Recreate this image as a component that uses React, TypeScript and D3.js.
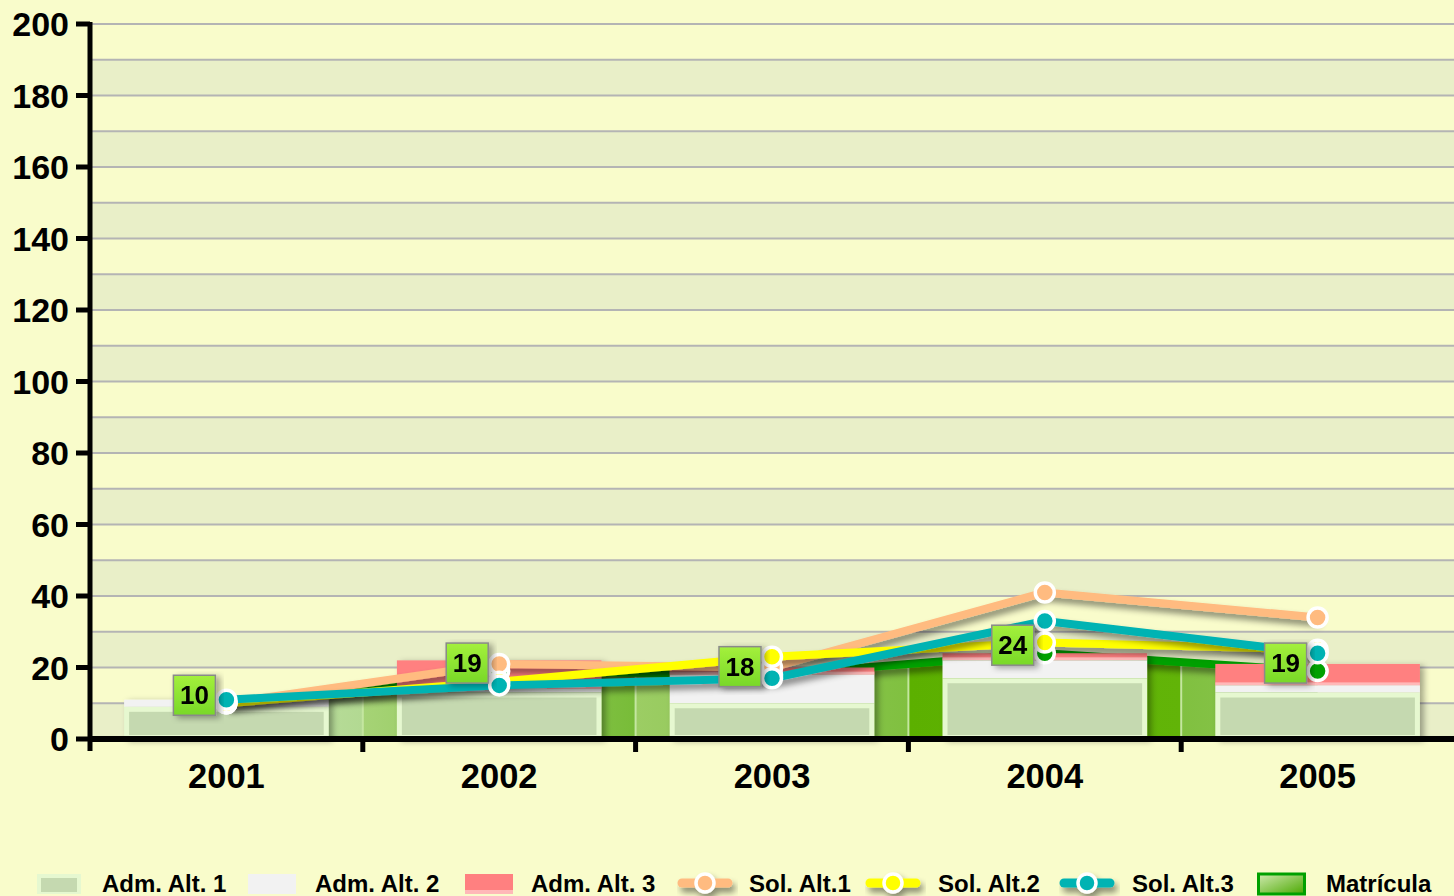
import React from "react";
import * as d3 from "d3";

const years = ["2001", "2002", "2003", "2004", "2005"];
const admAlt1 = [9, 13, 10, 17, 13];
const admAlt2 = [2, 1, 8, 5, 2];
const admAlt3 = [0, 8, 2, 2, 6];
const solAlt1 = [10, 21, 20, 41, 34];
const solAlt2 = [10, 16, 23, 27, 25];
const solAlt3 = [11, 15, 17, 33, 24];
const matricula = [10, 19, 18, 24, 19];
const yTicks = [0, 20, 40, 60, 80, 100, 120, 140, 160, 180, 200];

const W = 1454;
const H = 896;
const left = 90;
const right = 1454;
const top = 24;
const bottom = 739;
const font = "'Liberation Sans', Arial, sans-serif";

// shading of the Matrícula area, per category strip (left -> right)
const segColors = [
  ["#d4eabc", "#b2d992"],
  ["#a6d376", "#78bc38"],
  ["#9ccd64", "#80c040"],
  ["#5cb000", "#62b408"],
  ["#80c040", "#9ccd64"],
];

export default function App() {
  const x = d3.scaleBand().domain(years).range([left, right]).padding(0);
  const y = d3.scaleLinear().domain([0, 200]).range([bottom, top]);
  const bw = x.bandwidth();
  const cx = (i: number) => (x(years[i]) as number) + bw / 2;
  const barW = bw * 0.75;

  const bands = d3.range(0, 200, 10);
  const area = d3
    .area<number>()
    .x((_, i) => cx(i))
    .y0(y(0))
    .y1((d) => y(d));
  const line = d3
    .line<number>()
    .x((_, i) => cx(i))
    .y((d) => y(d));

  const matSeries = { name: "Matrícula", data: matricula, color: "#00a000" };
  const solSeries = [
    { name: "Sol. Alt.1", data: solAlt1, color: "#ffbb80" },
    { name: "Sol. Alt.2", data: solAlt2, color: "#ffff00" },
    { name: "Sol. Alt.3", data: solAlt3, color: "#00b3b3" },
  ];
  const markerSeries = [matSeries, ...solSeries];

  const legend = [
    { label: "Adm. Alt. 1", kind: "adm1", sx: 37, tx: 102 },
    { label: "Adm. Alt. 2", kind: "adm2", sx: 248, tx: 315 },
    { label: "Adm. Alt. 3", kind: "adm3", sx: 465, tx: 531 },
    { label: "Sol. Alt.1", kind: "line", color: "#ffbb80", sx: 678, tx: 749 },
    { label: "Sol. Alt.2", kind: "line", color: "#ffff00", sx: 866, tx: 938 },
    { label: "Sol. Alt.3", kind: "line", color: "#00b3b3", sx: 1060, tx: 1132 },
    { label: "Matrícula", kind: "mat", sx: 1257, tx: 1326 },
  ];

  return (
    <div style={{ position: "absolute", left: 0, top: 0 }}>
      <svg width={W} height={H} style={{ display: "block", background: "#f9fccb" }}>
        <defs>
          <filter id="shadow" x="-10%" y="-30%" width="130%" height="180%">
            <feDropShadow dx="3" dy="5" stdDeviation="3" floodColor="#000" floodOpacity="0.45" />
          </filter>
          <filter id="barShadow" x="-10%" y="-10%" width="130%" height="130%">
            <feDropShadow dx="4" dy="2" stdDeviation="3" floodColor="#000" floodOpacity="0.35" />
          </filter>
          {segColors.map((c, i) => (
            <linearGradient key={i} id={`seg${i}`} x1="0" x2="1" y1="0" y2="0">
              <stop offset="0" stopColor={c[0]} />
              <stop offset="1" stopColor={c[1]} />
            </linearGradient>
          ))}
          <linearGradient id="lbl" x1="0" x2="0" y1="0" y2="1">
            <stop offset="0" stopColor="#a4f03c" />
            <stop offset="1" stopColor="#78d828" />
          </linearGradient>
          <linearGradient id="matLeg" x1="0" x2="1" y1="0" y2="1">
            <stop offset="0" stopColor="#d0eab0" />
            <stop offset="1" stopColor="#4aa800" />
          </linearGradient>
          <clipPath id="areaClip">
            <path d={area(matricula) || ""} />
          </clipPath>
        </defs>

        {/* plot bands */}
        {bands.map((b, i) => (
          <rect
            key={b}
            x={left}
            y={y(b + 10)}
            width={right - left}
            height={y(b) - y(b + 10)}
            fill={i % 2 === 0 ? "#e9efc8" : "#f9fccb"}
          />
        ))}
        {d3.range(10, 201, 10).map((v) => (
          <line key={v} x1={left} x2={right} y1={y(v)} y2={y(v)} stroke="#b4b4b4" strokeWidth={2} />
        ))}

        {/* Matrícula area */}
        <g clipPath="url(#areaClip)">
          {years.map((yr, i) => (
            <rect key={yr} x={x(yr)} y={top} width={bw} height={bottom - top} fill={`url(#seg${i})`} />
          ))}
          {years.slice(1).map((yr) => (
            <line key={yr} x1={x(yr)} x2={x(yr)} y1={top} y2={bottom} stroke="#c4e6a0" strokeWidth={2} />
          ))}
        </g>
        <path
          d={line(matricula) || ""}
          fill="none"
          stroke={matSeries.color}
          strokeWidth={8}
          strokeLinejoin="round"
          filter="url(#shadow)"
        />

        {/* stacked columns */}
        <g filter="url(#barShadow)">
          {years.map((yr, i) => {
            const x0 = cx(i) - barW / 2;
            const a1 = admAlt1[i];
            const a2 = a1 + admAlt2[i];
            const a3 = a2 + admAlt3[i];
            return (
              <g key={yr}>
                {admAlt3[i] > 0 && (
                  <g>
                    <rect x={x0} y={y(a3)} width={barW} height={y(a2) - y(a3)} fill="#ff8080" />
                    <rect x={x0} y={y(a2) - 3} width={barW} height={3} fill="#ffb8b8" />
                  </g>
                )}
                <rect x={x0} y={y(a2)} width={barW} height={y(a1) - y(a2)} fill="#f2f2f2" />
                <rect x={x0} y={y(a1)} width={barW} height={y(0) - y(a1)} fill="#e6f8d0" />
                <rect
                  x={x0 + 5}
                  y={y(a1) + 5}
                  width={barW - 10}
                  height={Math.max(0, y(0) - y(a1) - 9)}
                  fill="#c5d9b0"
                />
              </g>
            );
          })}
        </g>

        {/* lines */}
        {solSeries.map((s) => (
          <path
            key={s.name}
            d={line(s.data) || ""}
            fill="none"
            stroke={s.color}
            strokeWidth={8}
            strokeLinejoin="round"
            filter="url(#shadow)"
          />
        ))}
        {markerSeries.map((s) => (
          <g key={s.name + "m"}>
            {s.data.map((d, i) => (
              <circle key={i} cx={cx(i)} cy={y(d)} r={9.5} fill={s.color} stroke="#fff" strokeWidth={3.5} />
            ))}
          </g>
        ))}

        {/* value labels */}
        {matricula.map((d, i) => (
          <g key={i} filter="url(#barShadow)">
            <rect
              x={cx(i) - 53}
              y={y(d) - 28}
              width={42}
              height={40}
              fill="url(#lbl)"
              stroke="#8a8a8a"
              strokeWidth={1.5}
            />
            <text
              x={cx(i) - 32}
              y={y(d) + 1}
              textAnchor="middle"
              fontFamily={font}
              fontWeight="bold"
              fontSize={26}
              fill="#000"
            >
              {d}
            </text>
          </g>
        ))}

        {/* axes */}
        <line x1={left} x2={left} y1={top - 2} y2={bottom + 12} stroke="#000" strokeWidth={5} />
        <line x1={left} x2={right} y1={bottom} y2={bottom} stroke="#000" strokeWidth={6} />
        {yTicks.map((t) => (
          <g key={t}>
            <line x1={76} x2={left} y1={y(t)} y2={y(t)} stroke="#000" strokeWidth={5} />
            <text
              x={69}
              y={y(t) + 12}
              textAnchor="end"
              fontFamily={font}
              fontWeight="bold"
              fontSize={34}
              fill="#000"
            >
              {t}
            </text>
          </g>
        ))}
        {years.slice(1).map((yr) => (
          <line key={yr} x1={x(yr)} x2={x(yr)} y1={bottom} y2={bottom + 13} stroke="#000" strokeWidth={5} />
        ))}
        {years.map((yr, i) => (
          <text
            key={yr}
            x={cx(i)}
            y={788}
            textAnchor="middle"
            fontFamily={font}
            fontWeight="bold"
            fontSize={34.5}
            fill="#000"
          >
            {yr}
          </text>
        ))}

        {/* legend */}
        {legend.map((l) => (
          <g key={l.label}>
            {l.kind === "adm1" && (
              <g>
                <rect x={l.sx} y={874} width={44} height={20} fill="#e6f8d0" />
                <rect x={l.sx + 4} y={878} width={36} height={14} fill="#c5d9b0" />
              </g>
            )}
            {l.kind === "adm2" && <rect x={l.sx} y={874} width={48} height={20} fill="#f2f2f2" />}
            {l.kind === "adm3" && (
              <g>
                <rect x={l.sx} y={874} width={48} height={20} fill="#ff8080" />
                <rect x={l.sx} y={890} width={48} height={4} fill="#ffb8b8" />
              </g>
            )}
            {l.kind === "line" && (
              <g filter="url(#shadow)">
                <line
                  x1={l.sx + 4}
                  x2={l.sx + 50}
                  y1={883}
                  y2={883}
                  stroke={l.color}
                  strokeWidth={9}
                  strokeLinecap="round"
                />
                <circle cx={l.sx + 27} cy={883} r={9} fill={l.color} stroke="#fff" strokeWidth={3.5} />
              </g>
            )}
            {l.kind === "mat" && (
              <rect
                x={l.sx + 1.5}
                y={874}
                width={46}
                height={20}
                fill="url(#matLeg)"
                stroke="#00a000"
                strokeWidth={3}
              />
            )}
            <text x={l.tx} y={892} fontFamily={font} fontWeight="bold" fontSize={24} fill="#000">
              {l.label}
            </text>
          </g>
        ))}
      </svg>
    </div>
  );
}
